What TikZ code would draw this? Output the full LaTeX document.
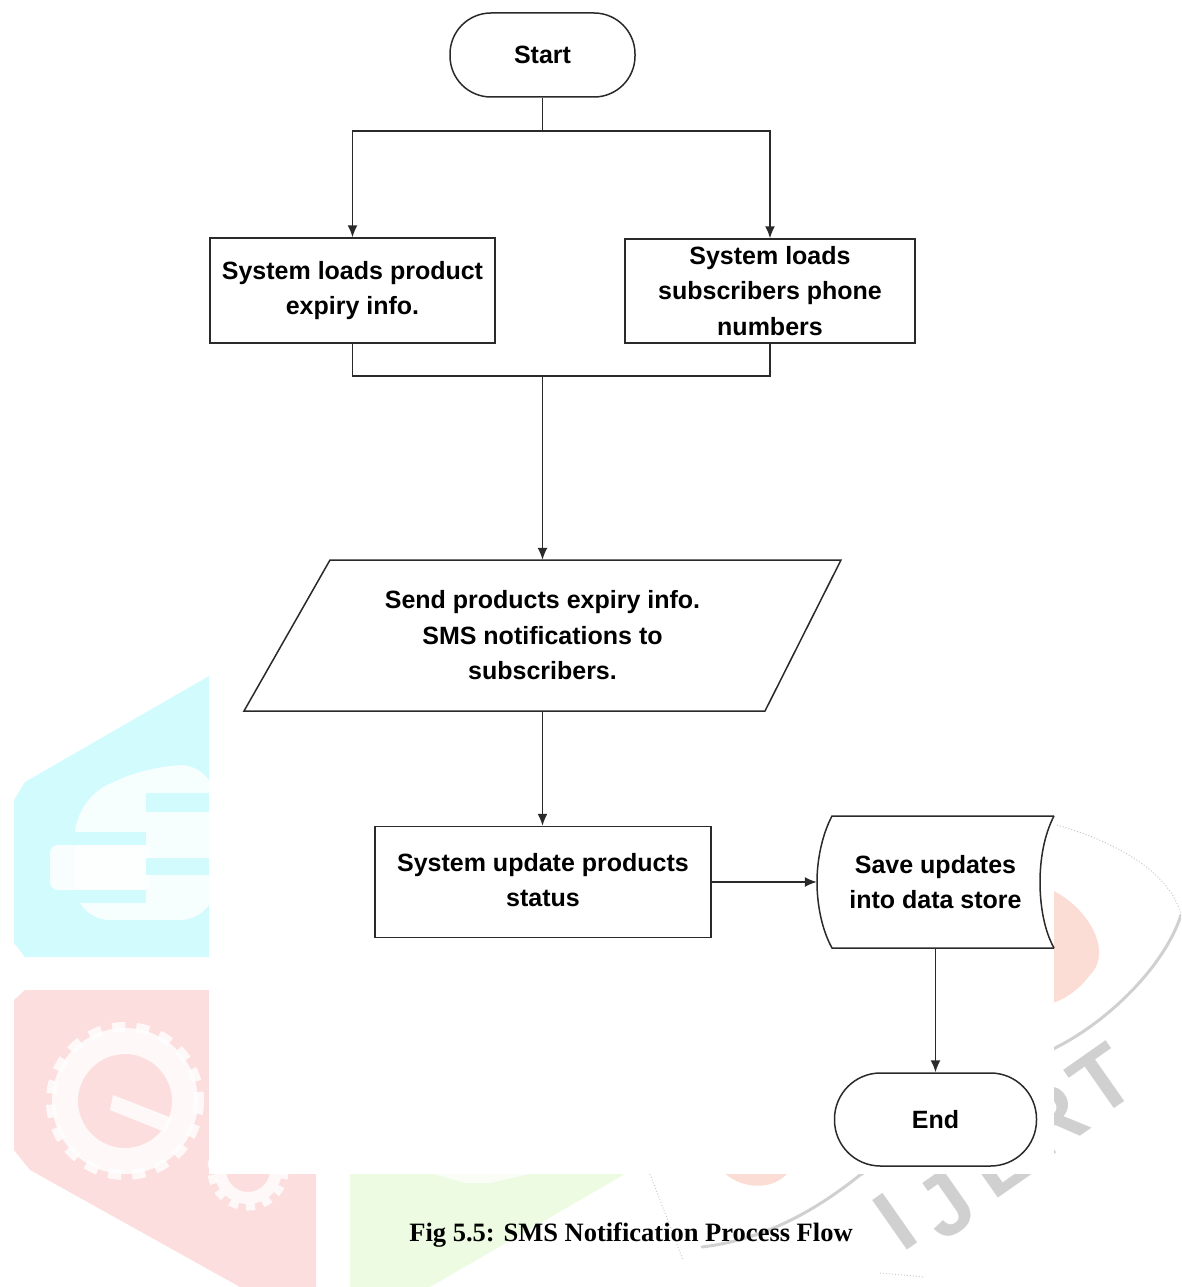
\documentclass[tikz,border=0pt]{standalone}
\usepackage{fontspec}
\setmainfont{Liberation Sans}
\newfontfamily\capfont{Liberation Serif}
\usetikzlibrary{arrows.meta,calc}
\definecolor{ink}{HTML}{2A2A2A}
\definecolor{wcyan}{HTML}{D2FBFD}
\definecolor{wred}{HTML}{FCDEDE}
\definecolor{wgreen}{HTML}{EDFBE2}
\definecolor{wgray}{HTML}{D0D0D0}
\definecolor{wsal}{HTML}{FBDDD5}
\tikzset{
  flowline/.style={draw=ink,line width=1.5pt},
  arr/.style={flowline,-{Latex[length=12pt,width=10pt]}},
  label/.style={font=\fontsize{25}{35.5}\selectfont\bfseries,text=black,align=center,inner sep=0pt},
  procbox/.style={label,draw=ink,line width=1.5pt,fill=white},
  term/.style={procbox},
  wmark/.style={font=\fontsize{88}{88}\selectfont\bfseries,text=wgray,rotate=35,inner sep=0pt},
}
\begin{document}
\begin{tikzpicture}[x=1pt,y=-1pt]
\useasboundingbox (0,0) rectangle (1181,1287);
\begin{scope}
\clip (0,0) rectangle (1181,1287);
% watermark: cyan panel
\fill[wcyan] (209,676) -- (25,782) -- (14,800) -- (14,943) -- (25,957) -- (209,957) -- cycle;
\fill[white,opacity=.8,rounded corners=35] (75,800) -- (150,765) -- (215,765) -- (215,920) -- (75,920) -- cycle;
\fill[white,opacity=.85,rounded corners=8] (50,845) rectangle (150,890);
\fill[wcyan] (146,793) rectangle (215,812);
\fill[wcyan] (146,858) rectangle (215,875);
\fill[wcyan] (60,832) rectangle (146,845);
\fill[wcyan] (75,890) rectangle (146,903);
% watermark: red panel
\fill[wred] (14,1000) -- (25,990) -- (316,990) -- (316,1287) -- (240,1287) -- (30,1170) -- (14,1150) -- cycle;
\draw[white,opacity=.8,line width=10,dash pattern=on 13 off 11] (125,1101) circle [radius=74];
\draw[white,opacity=.8,line width=26] (125,1101) circle [radius=60];
\fill[white,opacity=.8] (113,1095) -- (172,1118) -- (165,1132) -- (110,1110) -- cycle;
\draw[white,opacity=.8,line width=7,dash pattern=on 9 off 8] (248,1170) circle [radius=37];
\draw[white,opacity=.8,line width=12] (248,1170) circle [radius=28];
% watermark: green panel
\fill[wgreen] (350,1174) -- (625,1174) -- (430,1287) -- (350,1287) -- cycle;
\fill[white,opacity=.7] (434,1174) -- (530,1174) -- (490,1183) -- (465,1183) -- cycle;
% watermark: red crescent and grey swoosh
\fill[wsal] (1040,885) .. controls (1085,900) and (1115,950) .. (1090,975) .. controls (1075,995) and (1055,1005) .. (1040,1005) -- cycle;
\fill[wsal] (721,1170) .. controls (740,1190) and (775,1192) .. (790,1170) -- cycle;
\draw[gray!45,line width=1pt,dotted] (1057,825) .. controls (1110,840) and (1170,870) .. (1181,915);
\draw[wgray,line width=3pt,line cap=round] (1181,915) .. controls (1165,965) and (1110,1020) .. (1057,1047) .. controls (990,1085) and (920,1140) .. (860,1175) .. controls (810,1215) and (760,1240) .. (702,1247);
\draw[gray!40,line width=1pt,dotted] (880,1273) -- (925,1277);
\draw[gray!40,line width=1pt,dotted] (650,1174) -- (683,1260);
% watermark lettering
\node[wmark] (wi) at (895,1222) {I};
\node[wmark] (wj) at (945,1205) {J};
\node[wmark] (we) at (1000,1160) {E};
\node[wmark] (wr) at (1050,1120) {R};
\node[wmark] (wt) at (1102,1080) {T};
% white paper behind the chart
\fill[white] (209,0) rectangle (1054,1174);
\end{scope}

% nodes
\node[term,rounded corners=41pt,minimum width=185pt,minimum height=84pt] (start) at (542.5,55) {Start};
\node[procbox,minimum width=285pt,minimum height=105pt] (load1) at (352.5,290.5) {System loads product\\expiry info.};
\node[procbox,minimum width=290pt,minimum height=104pt] (load2) at (770,291) {System loads\\subscribers phone\\numbers};
\node[label,minimum width=597pt,minimum height=151pt] (send) at (542.5,635.5) {Send products expiry info.\\SMS notifications to\\subscribers.};
\draw[flowline] (330,560) -- (841,560) -- (765,711) -- (244,711) -- cycle;
\node[procbox,minimum width=336pt,minimum height=111pt] (update) at (543,882) {\raisebox{1.5pt}{\begin{tabular}{@{}c@{}}System update products\\status\end{tabular}}};
\node[label,minimum width=237pt,minimum height=132pt] (store) at (935.5,882) {Save updates\\into data store};
\draw[flowline] (1054,816) -- (832,816) .. controls (822,835) and (817,860) .. (817,882) .. controls (817,905) and (822,930) .. (832,948) -- (1054,948);
\draw[flowline] (1054,816) .. controls (1044,835) and (1040,860) .. (1040,882) .. controls (1040,905) and (1044,930) .. (1054,948);
\node[term,rounded corners=46pt,minimum width=202pt,minimum height=93pt] (finish) at (935.5,1119.5) {End};
\node[font=\fontsize{26.5}{30}\selectfont\bfseries\capfont,inner sep=0pt] (cap) at (631,1235) {Fig 5.5: SMS Notification Process Flow};

% connectors
\coordinate (split) at (542.5,131);
\coordinate (merge) at (542.5,376);
\draw[flowline] (start) -- (split);
\draw[arr] (split) -| (load1.north);
\draw[arr] (split) -| (load2.north);
\draw[flowline] (load1.south) |- (merge);
\draw[flowline] (load2.south) |- (merge);
\draw[arr] (merge) -- (send.north);
\draw[arr] (send.south) -- (send.south |- update.north);
\draw[arr] (update.east) -- (store.west);
\draw[arr] (store.south) -- (finish.north);
\end{tikzpicture}
\end{document}
